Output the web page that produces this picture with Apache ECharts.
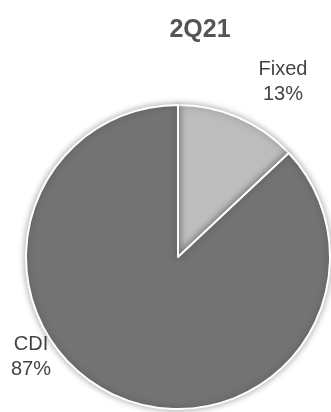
<!DOCTYPE html>
<html>
<head>
<meta charset="utf-8">
<script src="https://cdn.jsdelivr.net/npm/echarts@6/dist/echarts.min.js"></script>
<style>
  html, body { margin: 0; padding: 0; background: #fff; }
  #chart { width: 331px; height: 412px; }
</style>
</head>
<body>
<div id="chart"></div>
<script>
// Funding mix by rate type
const categories = ['Fixed', 'CDI'];
const shares = [13, 87];
const sliceColors = ['#bdbdbd', '#737373'];
const titleText = '2Q21';

// Label anchor points for each slice
const labelSpots = [
  { x: 283, y: 82 },
  { x: 31, y: 357 }
];

const fontFamily = 'Liberation Sans, Arial, sans-serif';

const chart = echarts.init(document.getElementById('chart'));
chart.setOption({
  animation: false,
  title: {
    text: titleText,
    left: 195,
    top: 13,
    textAlign: 'center',
    textStyle: {
      fontFamily,
      fontSize: 25,
      fontWeight: 'bold',
      color: '#555555'
    }
  },
  // Slice labels: name over percentage
  graphic: categories.map((name, i) => ({
    type: 'text',
    x: labelSpots[i].x,
    y: labelSpots[i].y,
    z: 10,
    style: {
      text: name + '\n' + shares[i] + '%',
      fontFamily,
      fontSize: 20,
      lineHeight: 25,
      fill: '#444444',
      align: 'center',
      verticalAlign: 'middle'
    }
  })),
  series: [{
    type: 'pie',
    center: [178, 257],
    radius: 152,
    startAngle: 90,
    clockwise: true,
    data: categories.map((name, i) => ({
      name,
      value: shares[i],
      itemStyle: { color: sliceColors[i] }
    })),
    itemStyle: {
      borderColor: '#ffffff',
      borderWidth: 2,
      shadowBlur: 7,
      shadowColor: 'rgba(0,0,0,0.35)'
    },
    label: { show: false },
    labelLine: { show: false }
  }]
});
</script>
</body>
</html>
